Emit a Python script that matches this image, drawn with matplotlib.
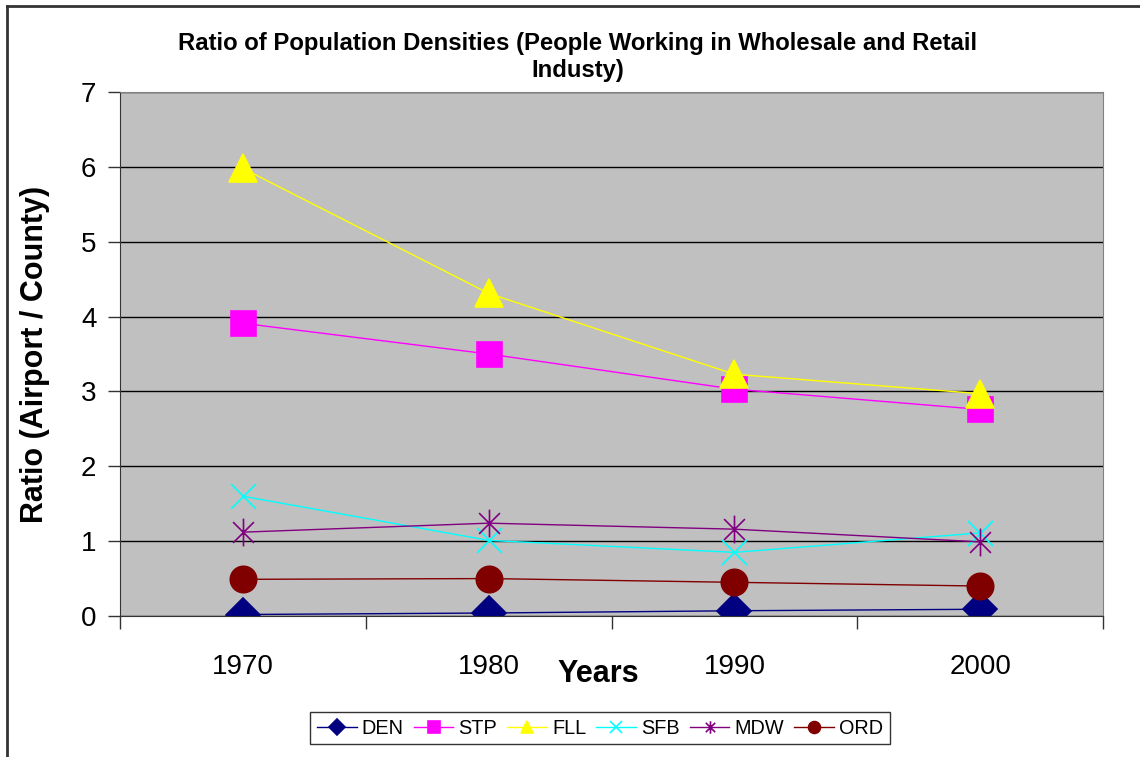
import matplotlib.pyplot as plt
from matplotlib.path import Path
from matplotlib.lines import Line2D
import numpy as np

plt.rcParams['font.family'] = ['Liberation Sans', 'DejaVu Sans']

years = ['1970', '1980', '1990', '2000']

# ratio of airport to county density, per airport
den = [0.02, 0.04, 0.07, 0.09]
stp = [3.91, 3.50, 3.03, 2.76]
fll = [5.98, 4.31, 3.23, 2.97]
sfb = [1.60, 1.01, 0.85, 1.11]
mdw = [1.12, 1.24, 1.16, 0.99]
ord_ = [0.49, 0.50, 0.45, 0.40]

# Excel style star: vertical bar plus an x
star = Path([(0, -1), (0, 1), (-0.75, -0.75), (0.75, 0.75), (-0.75, 0.75), (0.75, -0.75)],
            [Path.MOVETO, Path.LINETO, Path.MOVETO, Path.LINETO, Path.MOVETO, Path.LINETO])

series = [
    ('DEN', den, '#000080', 'D', 17),
    ('STP', stp, '#FF00FF', 's', 18),
    ('FLL', fll, '#FFFF00', '^', 20),
    ('SFB', sfb, '#00FFFF', 'x', 18),
    ('MDW', mdw, '#800080', star, 20),
    ('ORD', ord_, '#800000', 'o', 19),
]

fig = plt.figure(figsize=(11.4, 7.57), dpi=100)
ax = fig.add_axes([120/1140, 1 - 616/757, 983/1140, 524/757])
ax.set_facecolor('#C0C0C0')

x = np.arange(len(years))
for name, vals, col, mk, ms in series:
    ax.plot(x, vals, color=col, lw=1.0, marker=mk, markersize=ms,
            markerfacecolor=col, markeredgecolor=col, markeredgewidth=1.2,
            label=name)

ax.set_xlim(-0.5, 3.5)
ax.set_ylim(0, 7)
ax.set_yticks(range(8))
ax.set_yticklabels([str(i) for i in range(8)], fontsize=20)
ax.yaxis.grid(True, color='black', lw=1.0)
ax.set_axisbelow(True)

# boundary ticks at category edges, labels in the middle
ax.set_xticks(np.arange(-0.5, 4, 1))
ax.set_xticklabels([])
ax.set_xticks(x, minor=True)
ax.set_xticklabels(years, minor=True, fontsize=20)
ax.tick_params(axis='x', which='minor', length=0, pad=27)
ax.tick_params(axis='both', which='major', direction='out', length=9, width=1, color='#333333')
ax.tick_params(axis='y', pad=8)

for s in ['top', 'right']:
    ax.spines[s].set_color('#808080')
ax.spines['left'].set_color('#333333')
ax.spines['bottom'].set_color('#333333')

ax.set_ylabel('Ratio (Airport / County)', fontsize=22, fontweight='bold')
ax.yaxis.set_label_coords((50 - 120) / 983, 0.5)
ax.set_xlabel('Years', fontsize=22, fontweight='bold')
ax.xaxis.set_label_coords((598 - 120) / 983, (616 - 674) / 524)
ax.xaxis.label.set_va('center')

fig.text(578/1140, 1 - 57/757,
         'Ratio of Population Densities (People Working in Wholesale and Retail\nIndusty)',
         ha='center', va='center', fontsize=17.2, fontweight='bold', linespacing=1.25)

leg = fig.legend(loc='center', bbox_to_anchor=(600/1140, 1 - 728/757), ncol=6,
                 fontsize=14.3, frameon=True, fancybox=False, markerscale=0.45,
                 handlelength=2.0, handletextpad=0.26, columnspacing=0.5,
                 borderpad=0.35)
leg.get_frame().set_edgecolor('black')
leg.get_frame().set_linewidth(1.0)

# outer frame: only the left and top edges fall inside the image
fig.add_artist(Line2D([7/1140, 7/1140], [0, 1 - 6/757], transform=fig.transFigure,
                      color='#333333', lw=2))
fig.add_artist(Line2D([7/1140, 1], [1 - 6/757, 1 - 6/757], transform=fig.transFigure,
                      color='#333333', lw=2))

fig.savefig('out.png', dpi=100)
